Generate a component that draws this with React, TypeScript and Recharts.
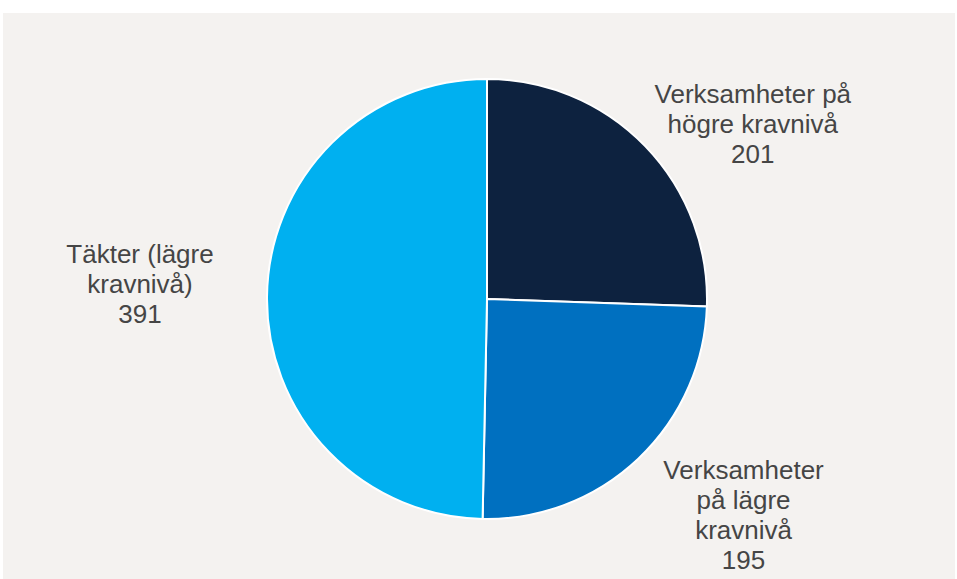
import { PieChart, Pie, Cell } from 'recharts'

const categories = ['Verksamheter på högre kravnivå', 'Verksamheter på lägre kravnivå', 'Täkter (lägre kravnivå)']
const values = [201, 195, 391]
const labelLines = [
  ['Verksamheter på', 'högre kravnivå'],
  ['Verksamheter', 'på lägre', 'kravnivå'],
  ['Täkter (lägre', 'kravnivå)'],
]
const colors = ['#0d223f', '#0070c0', '#00b0f0']

const data = categories.map((name, i) => ({ name, value: values[i], lines: labelLines[i] }))

// Excel's "best fit" places the labels a bit off the mid angle, so nudge them
const labelNudge = [
  { dx: 99, dy: -35 },
  { dx: 97, dy: 12 },
  { dx: -115, dy: -34 },
]

const RADIAN = Math.PI / 180

function SliceLabel(props: any) {
  const { cx, cy, midAngle, outerRadius, index, value } = props
  const r = outerRadius + 12
  const x = cx + r * Math.cos(-midAngle * RADIAN) + labelNudge[index].dx
  const y = cy + r * Math.sin(-midAngle * RADIAN) + labelNudge[index].dy
  const lines = [...data[index].lines, String(value)]
  return (
    <text
      x={x}
      y={y}
      textAnchor="middle"
      fill="#454545"
      fontSize={26}
      fontFamily="'Liberation Sans', Arial, sans-serif"
    >
      {lines.map((line, i) => (
        <tspan key={i} x={x} dy={i === 0 ? 0 : 30}>
          {line}
        </tspan>
      ))}
    </text>
  )
}

export default function App() {
  return (
    <div style={{ position: 'absolute', left: 0, top: 0, width: 957, height: 579, background: '#ffffff' }}>
      <div style={{ position: 'absolute', left: 3, top: 13, width: 952, height: 566, background: '#f4f2f0' }} />
      <div style={{ position: 'absolute', left: 0, top: 0 }}>
        <PieChart width={957} height={579} margin={{ top: 0, right: 0, bottom: 0, left: 0 }}>
          <Pie
            data={data}
            dataKey="value"
            nameKey="name"
            cx={487}
            cy={299}
            outerRadius={220}
            startAngle={90}
            endAngle={-270}
            stroke="#ffffff"
            strokeWidth={2}
            label={SliceLabel}
            labelLine={false}
            isAnimationActive={false}
          >
            {data.map((d, i) => (
              <Cell key={d.name} fill={colors[i]} />
            ))}
          </Pie>
        </PieChart>
      </div>
    </div>
  )
}
